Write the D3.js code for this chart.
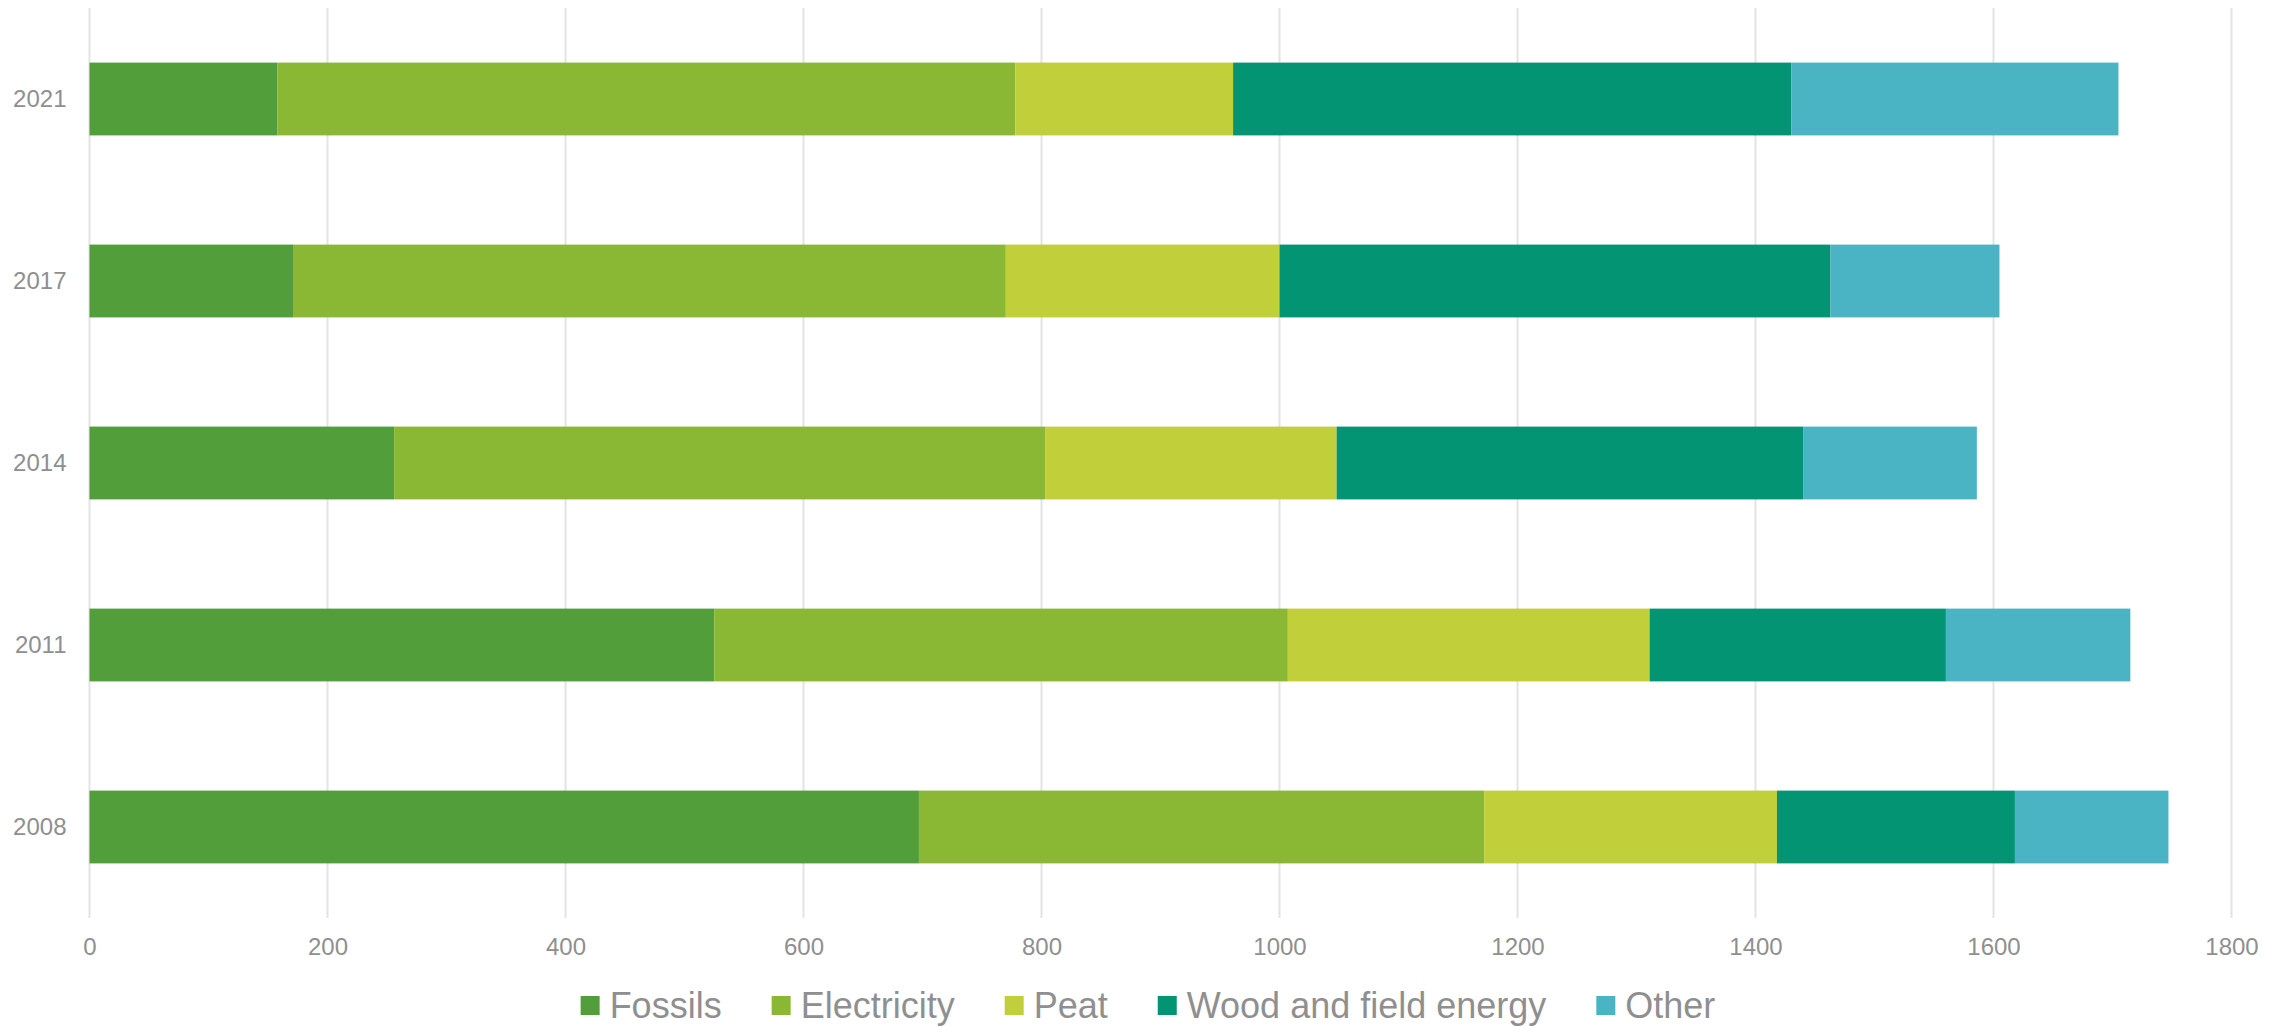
<!DOCTYPE html>
<html>
<head>
<script src="https://cdn.jsdelivr.net/npm/d3@7"></script>
<style>
    body{
        margin:0;
        background:#fff;
        font-family:"Liberation Sans", Arial, sans-serif;
    }
</style>
</head>
<body>
<div id="chart"></div>
<script>
    var years = ["2021","2017","2014","2011","2008"]
    var series = ["Fossils","Electricity","Peat","Wood and field energy","Other"]
    var colors = ["#529e3a","#8ab734","#c0cf3a","#039474","#4ab3c4"]
    var fossils = [158,171,256,525,697]
    var electricity = [620,599,547,482,475]
    var peat = [183,230,245,304,246]
    var wood = [469,463,392,249,200]
    var other = [275,142,146,155,129]
    var xTicks = [0,200,400,600,800,1000,1200,1400,1600,1800]

    var width = 2287, height = 1027
    var margin = {left:89.5, right:55.5, top:8, bottom:109}
    var textColor = "#8f8f8f"

    var rows = years.map(function(y,i){
        return {year:y, values:[fossils[i],electricity[i],peat[i],wood[i],other[i]]}
    })

    var svg = d3.select("#chart").append("svg")
        .attr("width",width)
        .attr("height",height)

    var x = d3.scaleLinear().domain([0,1800]).range([margin.left,width-margin.right])
    var y = d3.scaleBand().domain(years)
        .range([margin.top,height-margin.bottom])
        .paddingInner(0.6).paddingOuter(0.3)

    // gridlines
    svg.append("g").selectAll("line")
        .data(xTicks)
        .enter().append("line")
        .attr("x1",function(d){return x(d)})
        .attr("x2",function(d){return x(d)})
        .attr("y1",margin.top)
        .attr("y2",height-margin.bottom)
        .attr("stroke","#e3e3e3")
        .attr("stroke-width",2)

    // stacked bars
    rows.forEach(function(r){
        var acc = 0
        var segs = r.values.map(function(v,j){
            var s = {x0:acc, x1:acc+v, color:colors[j]}
            acc += v
            return s
        })
        svg.append("g").selectAll("rect")
            .data(segs)
            .enter().append("rect")
            .attr("x",function(d){return x(d.x0)})
            .attr("width",function(d){return x(d.x1)-x(d.x0)})
            .attr("y",y(r.year))
            .attr("height",y.bandwidth())
            .attr("fill",function(d){return d.color})
    })

    // x axis labels
    var xAxis = d3.axisBottom(x).tickValues(xTicks).tickFormat(d3.format("d")).tickSize(0).tickPadding(20)
    var gx = svg.append("g")
        .attr("transform","translate(0,"+(height-margin.bottom)+")")
        .call(xAxis)
    gx.select(".domain").remove()
    gx.selectAll("text")
        .attr("fill",textColor)
        .style("font-size","24px")
        .style("font-family","'Liberation Sans', Arial, sans-serif")

    // y axis labels
    var yAxis = d3.axisLeft(y).tickSize(0).tickPadding(23)
    var gy = svg.append("g")
        .attr("transform","translate("+margin.left+",0)")
        .call(yAxis)
    gy.select(".domain").remove()
    gy.selectAll("text")
        .attr("fill",textColor)
        .style("font-size","24px")
        .style("font-family","'Liberation Sans', Arial, sans-serif")

    // legend
    var legend = svg.append("g")
    var lx = 0
    series.forEach(function(name,i){
        var g = legend.append("g").attr("transform","translate("+lx+",0)")
        g.append("rect")
            .attr("x",0).attr("y",-10)
            .attr("width",19).attr("height",19)
            .attr("fill",colors[i])
        var t = g.append("text")
            .attr("x",29).attr("y",12)
            .attr("fill",textColor)
            .style("font-size","36px")
            .text(name)
        lx += 29 + t.node().getComputedTextLength() + 50
    })
    lx -= 50
    legend.attr("transform","translate("+(1148-lx/2)+",1006)")
</script>
</body>
</html>
